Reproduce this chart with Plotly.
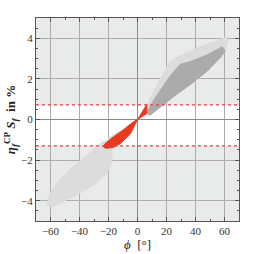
import plotly.graph_objects as go

# Upper light-gray cloud outline (phi in deg, eta*S in %)
light_up_phi = [6.9, 6.9, 11.1, 15.7, 20.3, 22.6, 27.2, 36.4, 48.0, 57.2, 61.3, 62.2, 60.6, 57.2, 48.0, 36.4, 24.9, 15.7, 8.8, 6.9]
light_up_y   = [0.21, 0.8, 1.38, 1.97, 2.55, 2.88, 3.05, 3.38, 3.72, 3.97, 4.05, 3.88, 3.38, 3.05, 2.38, 1.72, 1.13, 0.63, 0.22, 0.21]

# Darker gray cloud outline
dark_phi = [6.9, 7.6, 11.1, 15.7, 22.6, 29.5, 36.4, 48.0, 58.3, 60.6, 57.2, 48.0, 36.4, 24.9, 15.7, 8.8, 6.9]
dark_y   = [0.30, 0.50, 0.95, 1.45, 2.15, 2.72, 2.85, 3.18, 3.58, 3.38, 3.05, 2.38, 1.72, 1.13, 0.63, 0.22, 0.30]

# Lower light-gray cloud outline
light_lo_phi = [-62.6, -60.3, -53.4, -44.2, -35.0, -28.1, -24.6, -21.1, -18.9, -12.0, -10.0, -15.0, -17.7, -17.7, -21.1, -28.1, -39.6, -48.8, -58.0, -62.6]
light_lo_y   = [-4.2, -3.62, -2.95, -2.29, -1.79, -1.37, -1.12, -1.03, -0.85, -0.6, -0.75, -1.3, -1.45, -2.12, -2.62, -3.12, -3.62, -3.95, -4.28, -4.2]

# Red region outline (bow-tie through origin)
red_phi = [6.5, 6.5, 0.0, -5.0, -12.0, -17.0, -22.0, -23.5, -22.5, -18.9, -9.7, -3.0, 0.0, 6.5]
red_y   = [0.75, 0.30, 0.0, -0.72, -1.2, -1.38, -1.42, -1.35, -1.2, -0.98, -0.5, -0.12, 0.0, 0.75]

# Bounds (dashed lines)
band_hi = 0.72
band_lo = -1.3

x_ticks = [-60, -40, -20, 0, 20, 40, 60]
x_labels = ["\u221260", "\u221240", "\u221220", "0", "20", "40", "60"]
y_ticks = [-4, -2, 0, 2, 4]
y_labels = ["\u22124", "\u22122", "0", "2", "4"]

fig = go.Figure()

def poly(xs, ys, color):
    fig.add_trace(go.Scatter(x=xs, y=ys, mode="lines", fill="toself", fillcolor=color,
                             line=dict(color=color, width=1), hoverinfo="skip", showlegend=False))

poly(light_up_phi, light_up_y, "#dcdcdc")
poly(light_lo_phi, light_lo_y, "#dcdcdc")
poly(dark_phi, dark_y, "#ababab")
poly(red_phi, red_y, "#e83a1e")

fig.add_shape(type="rect", xref="x", yref="y", x0=-70, x1=70, y0=band_lo, y1=band_hi,
              fillcolor="white", line=dict(width=0), layer="below")
for yv in [band_hi, band_lo]:
    fig.add_shape(type="line", xref="x", yref="y", x0=-70, x1=70, y0=yv, y1=yv,
                  line=dict(color="#e0404a", width=1.3, dash="dot"), layer="above")

serif = "Liberation Serif, Times New Roman, serif"
fig.update_layout(
    width=258, height=254,
    margin=dict(l=36, r=19, t=18, b=33),
    paper_bgcolor="white", plot_bgcolor="#e9ebea",
    font=dict(family=serif, size=11, color="#333"),
    showlegend=False,
)
fig.update_xaxes(range=[-70, 70], tickvals=x_ticks, ticktext=x_labels, automargin=False,
                 showgrid=True, gridcolor="#adadad", gridwidth=1,
                 zeroline=True, zerolinecolor="#8a8a8a", zerolinewidth=1.2,
                 showline=True, linecolor="#555", linewidth=1, mirror="ticks",
                 ticks="inside", ticklen=4, tickcolor="#555",
                 minor=dict(dtick=10, ticks="inside", ticklen=2, tickcolor="#555"),
                 title=dict(text="<i>\u03d5</i>  [\u00b0]", font=dict(size=13, family=serif, color="#222"), standoff=2))
fig.update_yaxes(range=[-5, 5], tickvals=y_ticks, ticktext=y_labels, automargin=False,
                 showgrid=True, gridcolor="#adadad", gridwidth=1,
                 zeroline=True, zerolinecolor="#8a8a8a", zerolinewidth=1.2,
                 showline=True, linecolor="#555", linewidth=1, mirror="ticks",
                 ticks="inside", ticklen=4, tickcolor="#555",
                 minor=dict(dtick=0.5, ticks="inside", ticklen=2, tickcolor="#555"),
                 title=dict(text="<b><i>\u03b7</i><sub><i>f</i></sub><sup>CP</sup> <i>S<sub>f</sub></i>  in %</b>",
                            font=dict(size=13, family=serif, color="#222"), standoff=2))

fig.write_html("out.html", config={"displayModeBar": False},
               post_script="document.body.style.margin='0';document.body.style.overflow='hidden';")
